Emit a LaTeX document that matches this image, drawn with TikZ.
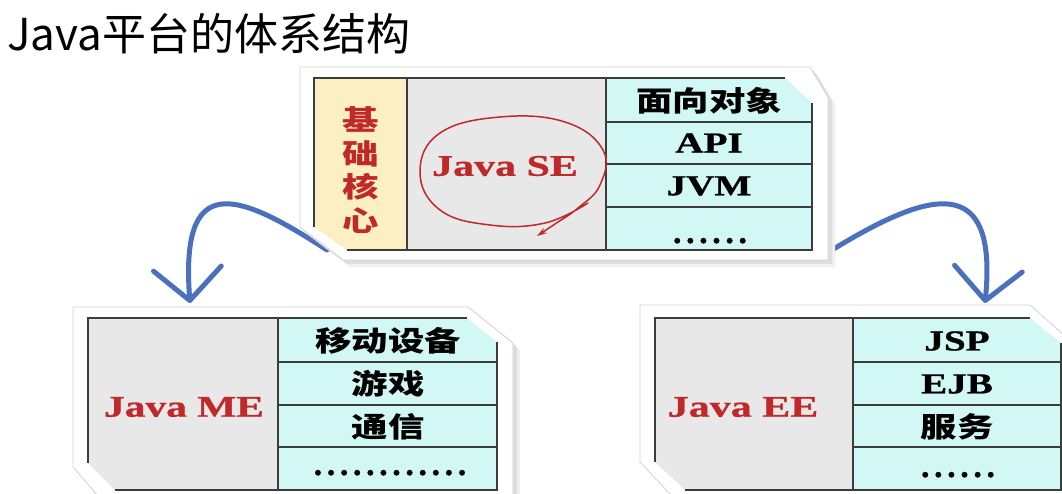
\documentclass[tikz,border=0pt]{standalone}
\usepackage{fontspec}
\newfontfamily\cjk{Noto Sans CJK SC}
\newfontfamily\lserif{Liberation Serif}[UprightFont={* Bold},FakeBold=0.8]
\usetikzlibrary{arrows.meta}
\definecolor{ycol}{HTML}{FCEFC4}
\definecolor{gcol}{HTML}{E8E8E8}
\definecolor{ccol}{HTML}{D2F8F6}
\definecolor{rcol}{HTML}{C0282A}
\definecolor{bcol}{HTML}{4A70BE}
\definecolor{lcol}{HTML}{3C3C3C}
\newcommand{\wx}[2]{\scalebox{#1}[1]{#2}}
\tikzset{
 panel/.style={fill=white, draw=gray!35, line width=0.8pt},
 pshadow/.style={fill=black!13, draw=none},
 pshadowb/.style={fill=black!6, draw=none},
 tline/.style={draw=lcol, line width=1.6pt},
 cjktxt/.style={font=\cjk\bfseries\fontsize{28}{28}\selectfont, inner sep=0pt},
 lattxt/.style={font=\lserif\fontsize{29}{29}\selectfont, inner sep=0pt},
 redtxt/.style={font=\lserif\fontsize{30}{30}\selectfont, inner sep=0pt, text=rcol},
 dottxt/.style={font=\lserif\fontsize{34}{34}\selectfont, inner sep=0pt, anchor=base},
 bluearrow/.style={draw=bcol, line width=5pt, line cap=round,
   -{Straight Barb[length=32pt,width=68pt,line cap=round,line join=round]}},
 redpen/.style={draw=rcol, line width=1.5pt, line cap=round,
   -{Stealth[open,length=10pt,width=6pt]}},
 sepoly/.style={insert path={(300,67)--(810,67)--(828,97)--(828,260)--(343,260)--(300,227)--cycle}},
 seclip/.style={insert path={(314,78)--(785,78)--(812,103)--(812,250)--(347,250)--(314,227)--cycle}},
 mepoly/.style={insert path={(73,307)--(468,307)--(513,343)--(513,510)--(110,510)--(73,467)--cycle}},
 meclip/.style={insert path={(88,318)--(467,318)--(497,342)--(497,490)--(115,490)--(88,463)--cycle}},
 eepoly/.style={insert path={(640,305)--(1030,305)--(1075,345)--(1075,510)--(685,510)--(640,462)--cycle}},
 eeclip/.style={insert path={(655,318)--(1030,318)--(1061,343)--(1061,490)--(685,490)--(655,462)--cycle}},
}
\begin{document}
\begin{tikzpicture}[x=1pt,y=-1pt]
\useasboundingbox (0,0) rectangle (1062,494);
\clip (0,0) rectangle (1062,494);
\fill[white] (0,0) rectangle (1062,494);

% title
\node[font=\cjk\fontsize{44}{44}\selectfont, anchor=base west, inner sep=0pt] (title) at (7,51) {Java平台的体系结构};

% ---------- Java ME panel ----------
\begin{scope}[shift={(7,7)}]\path[pshadowb, mepoly];\end{scope}
\begin{scope}[shift={(4,4)}]\path[pshadow, mepoly];\end{scope}
\path[panel, mepoly];
\begin{scope}
 \path[clip, meclip];
 \fill[gcol] (88,318) rectangle (278,490);
 \fill[ccol] (278,318) rectangle (497,490);
 \draw[tline] (278,318) -- (278,490);
 \draw[tline] (278,362) -- (497,362) (278,405) -- (497,405) (278,447) -- (497,447);
\end{scope}
\draw[tline] (467,318) -- (88,318) -- (88,463) (115,490) -- (497,490) -- (497,342);
\node[redtxt] (me-name) at (184,407) {\wx{1.38}{Java ME}};
\node[cjktxt] (me-1) at (388,341) {\wx{1.3}{移动设备}};
\node[cjktxt] (me-2) at (388,384) {\wx{1.3}{游戏}};
\node[cjktxt] (me-3) at (388,427) {\wx{1.3}{通信}};
\node[dottxt] (me-4) at (390,475) {.\kern4.6pt.\kern4.6pt.\kern4.6pt.\kern4.6pt.\kern4.6pt.\kern4.6pt.\kern4.6pt.\kern4.6pt.\kern4.6pt.\kern4.6pt.\kern4.6pt.};

% ---------- Java EE panel ----------
\begin{scope}[shift={(7,7)}]\path[pshadowb, eepoly];\end{scope}
\begin{scope}[shift={(4,4)}]\path[pshadow, eepoly];\end{scope}
\path[panel, eepoly];
\begin{scope}
 \path[clip, eeclip];
 \fill[gcol] (655,318) rectangle (853,490);
 \fill[ccol] (853,318) rectangle (1061,490);
 \draw[tline] (853,318) -- (853,490);
 \draw[tline] (853,362) -- (1061,362) (853,405) -- (1061,405) (853,447) -- (1061,447);
\end{scope}
\draw[tline] (1030,318) -- (655,318) -- (655,462) (685,490) -- (1061,490) -- (1061,343);
\node[redtxt] (ee-name) at (743,407) {\wx{1.4}{Java EE}};
\node[lattxt] (ee-1) at (957,341) {\wx{1.35}{JSP}};
\node[lattxt] (ee-2) at (957,384) {\wx{1.35}{EJB}};
\node[cjktxt] (ee-3) at (957,427) {\wx{1.3}{服务}};
\node[dottxt] (ee-4) at (958,477) {.\kern4.6pt.\kern4.6pt.\kern4.6pt.\kern4.6pt.\kern4.6pt.};

% ---------- arrows ----------
\coordinate (se-l) at (327,250);
\coordinate (se-r) at (832,250);
\coordinate (me-in) at (190,303);
\coordinate (ee-in) at (985,303);
\draw[bluearrow] (se-l) .. controls (235,190) and (180,172) .. (me-in);
\draw[bluearrow] (se-r) .. controls (930,190) and (998,172) .. (ee-in);

% ---------- Java SE panel ----------
\begin{scope}[shift={(7,7)}]\path[pshadowb, sepoly];\end{scope}
\begin{scope}[shift={(4,4)}]\path[pshadow, sepoly];\end{scope}
\path[panel, sepoly];
\begin{scope}
 \path[clip, seclip];
 \fill[ycol] (314,78) rectangle (407,250);
 \fill[gcol] (407,78) rectangle (606,250);
 \fill[ccol] (606,78) rectangle (812,250);
 \draw[tline] (407,78) -- (407,250) (606,78) -- (606,250);
 \draw[tline] (606,122) -- (812,122) (606,164) -- (812,164) (606,207) -- (812,207);
\end{scope}
\draw[tline] (785,78) -- (314,78) -- (314,227) (347,250) -- (812,250) -- (812,103);
\node[cjktxt, text=rcol, align=center, font=\cjk\bfseries\fontsize{28}{33.7}\selectfont] (se-core) at (361,170)
  {\wx{1.3}{基}\\\wx{1.3}{础}\\\wx{1.3}{核}\\\wx{1.3}{心}};
\node[redtxt] (se-name) at (505,166) {\wx{1.4}{Java SE}};
\node[cjktxt] (se-1) at (709,101) {\wx{1.3}{面向对象}};
\node[lattxt] (se-2) at (709,143) {\wx{1.35}{API}};
\node[lattxt] (se-3) at (709,186) {\wx{1.35}{JVM}};
\node[dottxt] (se-4) at (710,243) {.\kern4.6pt.\kern4.6pt.\kern4.6pt.\kern4.6pt.\kern4.6pt.};

% red hand-drawn circle around Java SE
\draw[redpen] plot[smooth, tension=0.7] coordinates {(588,203) (545,223) (490,225) (440,210) (420,172) (440,133) (500,117) (565,122) (603,150) (600,185) (578,208) (555,224) (537,236)};
\end{tikzpicture}
\end{document}
